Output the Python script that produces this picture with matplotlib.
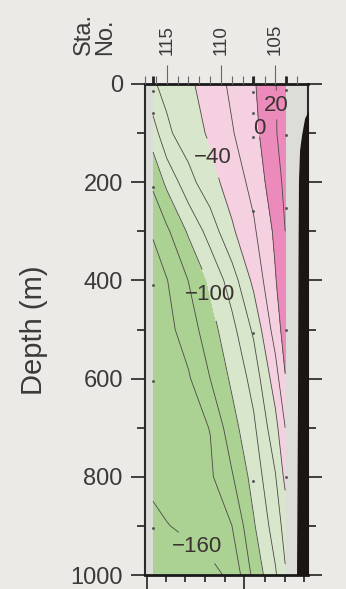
import matplotlib.pyplot as plt
import numpy as np

plt.rcParams['font.family'] = ['Liberation Sans', 'DejaVu Sans']

# section grid: station number (columns) x depth in m (rows)
stations = [116.26, 115, 113, 111, 109, 107, 105, 104.1]
depths = [0, 100, 200, 300, 400, 500, 600, 700, 800, 900, 1000]
values = np.array([
    [-62, -54.7, -43.8, -30.6, -16.2, -2.2, 19.3, 28],
    [-90, -63.8, -49.5, -37.1, -21.5, -6.5, 18.9, 26],
    [-116, -95.5, -66.9, -47.4, -30.8, -14.0, 12.6, 24],
    [-138, -123.7, -97.2, -71.6, -43.0, -23.0, 3.8, 20],
    [-150, -140.9, -119.6, -96.4, -70.1, -34.9, -1.2, 14],
    [-152, -145.9, -130.7, -107.9, -86.1, -56.4, -10.4, 9],
    [-154, -149.4, -142.2, -119.9, -96.3, -72.9, -29.3, -1],
    [-156, -152.2, -146.1, -139.5, -107.6, -83.6, -46.8, -20],
    [-158, -155.0, -150.5, -143.1, -122, -92.2, -61.2, -35],
    [-162, -160.5, -157.5, -153.0, -140.1, -102.2, -70.4, -53],
    [-172, -169.8, -166.3, -164.0, -157.0, -114.5, -82.4, -62],
])

fill_levels = [-200, -100, -40, 0, 40]
fill_colors = ['#abd193', '#d8e7cc', '#f5d0e1', '#ec8bbb']
plain_levels = [-140, -120, -80, -60, -20]
label_levels = [-160, -100, -40, 0, 20]
label_pos = [(112.0, 935), (111.65, 434), (110.55, 149), (106.1, 90), (105.2, 43)]

# sampling points
dot_sta = [116.26] * 6 + [107.05] * 6 + [104.0] * 5
dot_depth = [15, 60, 210, 410, 605, 905,
             16, 59, 108, 259, 507, 808,
             12, 104, 253, 501, 800]

# bottom topography at the right end
topo_sta = [102.0, 102.07, 102.25, 102.53, 102.71, 102.81, 102.85, 102.9, 102.99]
topo_depth = [58, 62, 70, 104, 134, 196, 338, 644, 1000]

sta_major = [115, 110, 105]
sta_minor = list(range(103, 118))
bottom_major = [116.84, 107.86]
bottom_minor = [115.06, 113.3, 111.46, 109.68, 106.0, 104.15, 102.4]

fig = plt.figure(figsize=(3.46, 5.89), dpi=100, facecolor='#ebeae6')
ax = fig.add_axes([145 / 346, 1 - 575 / 589, 163 / 346, 491 / 589])
ax.set_facecolor('#dcddd8')

X, Y = np.meshgrid(stations, depths)
ax.contourf(X, Y, values, levels=fill_levels, colors=fill_colors)
ax.contour(X, Y, values, levels=plain_levels, colors='#4a4a44',
           linewidths=0.6, linestyles='solid')
cs = ax.contour(X, Y, values, levels=label_levels, colors='#4a4a44',
                linewidths=0.6, linestyles='solid')


def fmt(v):
    return '\u2212%d' % abs(v) if v < 0 else '%d' % v


lbls = ax.clabel(cs, manual=label_pos, inline=True,
                 inline_spacing=2, fmt=fmt, fontsize=16, colors='#3a3330')
for t in lbls:
    t.set_rotation(0)

ax.scatter(dot_sta, dot_depth, s=1.2, c='#555555', zorder=3)
ax.fill_betweenx(topo_depth, topo_sta, 102, color='#1c1613', zorder=4)

ax.set_xlim(117, 102)
ax.set_ylim(1000, 0)

# bottom ticks (no labels)
ax.set_xticks(bottom_major)
ax.set_xticks(bottom_minor, minor=True)
ax.tick_params(axis='x', which='both', direction='out', labelbottom=False,
               bottom=True, top=False, color='#222222', width=1.2)
ax.tick_params(axis='x', which='major', length=11)
ax.tick_params(axis='x', which='minor', length=5)

# depth axis
ax.set_yticks(range(0, 1001, 200))
ax.set_yticks(range(100, 1000, 200), minor=True)
ax.tick_params(axis='y', which='both', direction='out', left=True, right=True,
               color='#222222', width=1.2, labelsize=17, labelcolor='#3a3a3a', pad=6)
ax.tick_params(axis='y', which='major', length=10)
ax.tick_params(axis='y', which='minor', length=5.5)

for side in ['top', 'bottom']:
    ax.spines[side].set_linewidth(2)
    ax.spines[side].set_color('#1a1a1a')
for side in ['left', 'right']:
    ax.spines[side].set_linewidth(1.5)
    ax.spines[side].set_color('#2a2a2a')

# station axis on top
top = ax.twiny()
top.set_xlim(ax.get_xlim())
top.set_xticks(sta_major)
top.set_xticks(sta_minor, minor=True)
top.tick_params(axis='x', which='both', direction='out', top=True, bottom=False,
                labeltop=False, labelbottom=False, color='#666666', width=0.8)
top.tick_params(axis='x', which='major', length=13.5)
top.tick_params(axis='x', which='minor', length=6)
for s in top.spines.values():
    s.set_visible(False)
for s in sta_major:
    ax.text(s, 1 + 29 / 491, str(s), transform=ax.get_xaxis_transform(),
            rotation=90, ha='center', va='bottom', fontsize=13.5, color='#3a3a3a')

sampled = ax.twiny()
sampled.set_xlim(ax.get_xlim())
sampled.set_xticks(sorted(set(dot_sta)))
sampled.tick_params(axis='x', direction='out', top=True, bottom=False,
                    labeltop=False, labelbottom=False, length=6, width=2, color='#222222')
for s in sampled.spines.values():
    s.set_visible(False)

fig.text(34 / 346, 1 - 330 / 589, 'Depth (m)', rotation=90, ha='center', va='center',
         fontsize=21, color='#3a3a3a')
fig.text(84 / 346, 1 - 55 / 589, 'Sta.', rotation=90, ha='center', va='bottom',
         fontsize=17, color='#3a3a3a')
fig.text(105 / 346, 1 - 55 / 589, 'No.', rotation=90, ha='center', va='bottom',
         fontsize=17, color='#3a3a3a')

fig.savefig('out.png', dpi=100, facecolor=fig.get_facecolor())
